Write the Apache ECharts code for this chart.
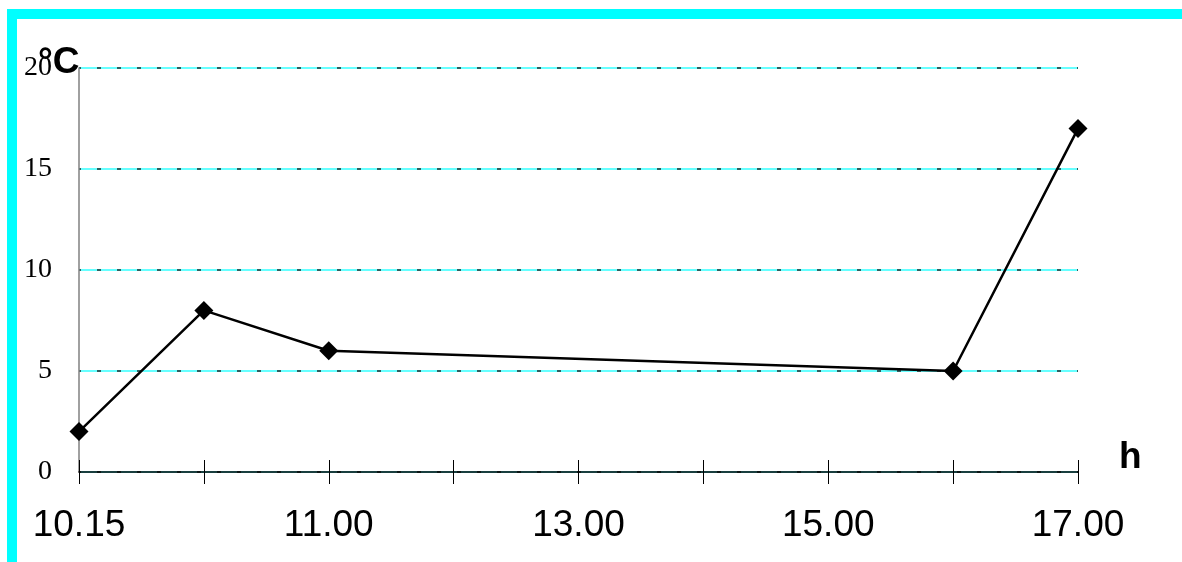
<!DOCTYPE html>
<html>
<head>
<meta charset="utf-8">
<style>
  html, body { margin: 0; padding: 0; background: #ffffff; }
  #chart { width: 1182px; height: 562px; }
</style>
<script src="https://cdn.jsdelivr.net/npm/echarts@6/dist/echarts.min.js"></script>
</head>
<body>
<div id="chart"></div>
<script>
// Hours of the day along the x axis (labels on every other slot)
const hours = ['10.15', '10.30', '11.00', '12.00', '13.00', '14.00', '15.00', '16.00', '17.00'];
const labelledHours = ['10.15', '11.00', '13.00', '15.00', '17.00'];
// Temperature readings in °C; null where no reading was taken
const temperature = [2, 8, 6, null, null, null, null, 5, 17];
// Temperature scale
const yMin = 0, yMax = 20, yStep = 5;

const chart = echarts.init(document.getElementById('chart'), null, { renderer: 'canvas' });

const gridBox = { left: 79, right: 104, top: 68, bottom: 90 };

chart.setOption({
  animation: false,
  backgroundColor: '#ffffff',
  grid: gridBox,
  xAxis: [
    {
      type: 'category',
      data: hours,
      boundaryGap: false,
      position: 'bottom',
      axisLine: { show: true, lineStyle: { color: '#000000', width: 1.5 } },
      axisTick: { show: true, inside: false, length: 12, lineStyle: { color: '#000000', width: 1 } },
      axisLabel: {
        show: true,
        margin: 35,
        interval: 0,
        fontFamily: '"Liberation Sans", Arial, sans-serif',
        fontSize: 37,
        color: '#000000',
        formatter: v => labelledHours.includes(v) ? v : ''
      },
      splitLine: { show: false }
    },
    {
      type: 'category',
      data: hours,
      boundaryGap: false,
      position: 'bottom',
      axisLine: { show: false },
      axisTick: { show: true, inside: true, length: 12, lineStyle: { color: '#000000', width: 1 } },
      axisLabel: { show: false },
      splitLine: { show: false }
    }
  ],
  yAxis: [
    {
      type: 'value',
      min: yMin,
      max: yMax,
      interval: yStep,
      axisLine: { show: true, lineStyle: { color: '#808080', width: 1.5 } },
      axisTick: { show: false },
      axisLabel: {
        margin: 27,
        fontFamily: '"Liberation Serif", "Times New Roman", serif',
        fontSize: 28,
        color: '#000000'
      },
      splitLine: { show: true, lineStyle: { color: '#66ffff', width: 2, type: 'solid' } }
    },
    {
      // dotted overlay on the cyan grid lines
      type: 'value',
      min: yMin,
      max: yMax,
      interval: yStep,
      position: 'left',
      axisLine: { show: false },
      axisTick: { show: false },
      axisLabel: { show: false },
      splitLine: {
        show: true,
        lineStyle: { color: '#2f5f5f', width: 2, type: [4, 16], dashOffset: 2 }
      }
    }
  ],
  series: [
    {
      type: 'line',
      data: temperature,
      connectNulls: true,
      xAxisIndex: 0,
      yAxisIndex: 0,
      symbol: 'diamond',
      symbolSize: 19,
      showAllSymbol: true,
      lineStyle: { color: '#000000', width: 2.5 },
      itemStyle: { color: '#000000', borderWidth: 0 },
      z: 5
    }
  ],
  graphic: [
    {
      type: 'rect',
      shape: { x: 12, y: 14, width: 1200, height: 600 },
      style: { fill: null, stroke: '#00ffff', lineWidth: 10 },
      silent: true,
      z: 10
    },
    {
      type: 'text',
      left: 38,
      top: 44,
      style: {
        text: '°C',
        font: 'bold 37px "Liberation Sans", Arial, sans-serif',
        fill: '#000000'
      },
      z: 20
    },
    {
      type: 'text',
      left: 1119,
      top: 439,
      style: {
        text: 'h',
        font: 'bold 37px "Liberation Sans", Arial, sans-serif',
        fill: '#000000'
      },
      z: 20
    }
  ]
});
</script>
</body>
</html>
